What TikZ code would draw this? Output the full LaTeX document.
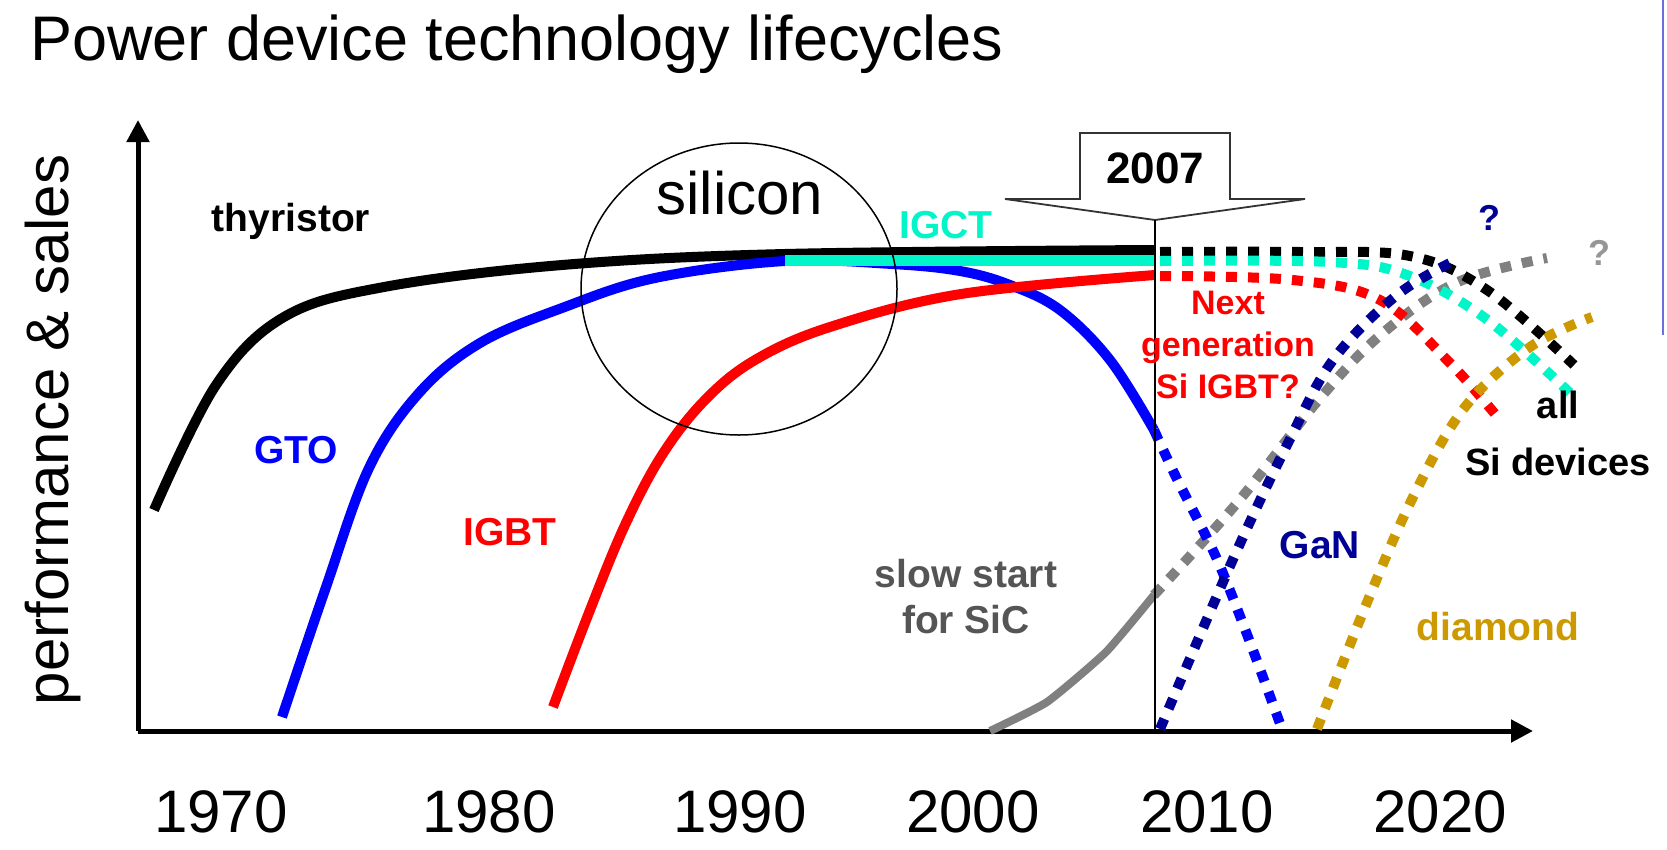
\documentclass[tikz,border=0pt]{standalone}
\usepackage{fontspec}
\setmainfont{Liberation Sans}
\usetikzlibrary{arrows.meta}
\definecolor{igct}{RGB}{0,245,200}
\definecolor{gan}{RGB}{0,0,150}
\definecolor{dia}{RGB}{204,153,0}
\definecolor{sic}{RGB}{128,128,128}
\definecolor{sictext}{RGB}{85,85,85}
\definecolor{qgray}{RGB}{150,150,150}
\definecolor{frameblue}{RGB}{110,110,220}
\begin{document}
\begin{tikzpicture}[x=1pt,y=-1pt,
  lbl/.style={font=\fontsize{39}{46}\selectfont\bfseries, inner sep=0pt, align=center},
  big/.style={font=\fontsize{60}{66}\selectfont, inner sep=0pt},
  curve/.style={line width=10pt, line join=round},
  dotc/.style={line width=10pt, dash pattern=on 11pt off 11pt},
  axis/.style={line width=5pt, -{Triangle[length=22pt,width=22pt]}},
]
\useasboundingbox (0,0) rectangle (1667,849);

% frame line at right edge
\draw[frameblue, line width=2.5pt] (1663,0) -- (1663,335);

% title
\node[anchor=base west, font=\fontsize{63}{70}\selectfont, inner sep=0pt] (title) at (30,60) {Power device technology lifecycles};

% axes
\coordinate (origin) at (138,731);
\coordinate (ytip) at (138,120);
\coordinate (xtip) at (1533,731);
\draw[axis] (origin) -- (ytip);
\draw[axis] (origin) -- (xtip);

% axis labels
\node[big, rotate=90] (ylab) at (53,430) {performance \& sales};
\node[big, anchor=base] (y1970) at (221,832) {1970};
\node[big, anchor=base] (y1980) at (489,832) {1980};
\node[big, anchor=base] (y1990) at (740,832) {1990};
\node[big, anchor=base] (y2000) at (973,832) {2000};
\node[big, anchor=base] (y2010) at (1207,832) {2010};
\node[big, anchor=base] (y2020) at (1440,832) {2020};

% thyristor (black)
\draw[curve, black] plot[smooth, tension=0.6] coordinates {(154,510) (216,385) (284,317) (384,287) (562,265) (785,254) (1155,250)};
% GTO (blue)
\draw[curve, blue] plot[smooth, tension=0.6] coordinates {(282,717) (325,590) (369,468) (419,393) (480,343) (562,308) (655,278) (785,261) (892,264) (960,271) (1010,285) (1060,310) (1110,360) (1154,430)};
% IGBT (red)
\draw[curve, red] plot[smooth, tension=0.6] coordinates {(553,707) (590,610) (625,525) (662,455) (705,400) (755,360) (830,327) (961,294) (1155,275)};
% IGCT (cyan)
\draw[line width=11pt, igct] (785,260) -- (1155,260);
% SiC solid (gray)
\draw[curve, sic, line width=8pt] plot[smooth, tension=0.3] coordinates {(990,731) (1047,702) (1106,652) (1154,595)};

% dotted continuations
\draw[dotc, sic] plot[smooth, tension=0.6] coordinates {(1154,595) (1237,503) (1321,397) (1384,332) (1458,282) (1547,258)};
\draw[dotc, blue] plot[smooth, tension=0.5] coordinates {(1154,430) (1176,477) (1216,557) (1248,637) (1282,729)};
\draw[dotc, red] plot[smooth, tension=0.6] coordinates {(1160,276) (1293,280) (1380,300) (1449,362) (1495,414)};
\draw[dotc, dia] plot[smooth, tension=0.6] coordinates {(1317,729) (1368,600) (1415,493) (1465,407) (1530,347) (1592,317)};
\draw[dotc, black] plot[smooth, tension=0.6] coordinates {(1160,252) (1300,252) (1410,256) (1487,290) (1574,365)};
\draw[dotc, igct] plot[smooth, tension=0.6] coordinates {(1160,261) (1330,262) (1407,275) (1485,318) (1570,393)};
\draw[dotc, gan] plot[smooth, tension=0.6] coordinates {(1160,729) (1234,557) (1288,443) (1333,360) (1397,295) (1456,260)};

% silicon circle
\draw[line width=1.5pt] (739,289) ellipse [x radius=158, y radius=146];
\node[font=\fontsize{60}{66}\selectfont, inner sep=0pt] (silicon) at (740,193) {silicon};

% 2007 callout
\draw[line width=1.8pt, fill=white, draw=black!80] (1080,199) -- (1080,133) -- (1230,133) -- (1230,199) -- (1305,199) -- (1155,220) -- (1005,199) -- cycle;
\coordinate (calltip) at (1155,220);
\coordinate (callfoot) at (1155,731);
\draw[line width=2pt] (calltip) -- (callfoot);
\node[font=\fontsize{44}{50}\selectfont\bfseries, inner sep=0pt] (y2007) at (1155,168) {2007};

% labels
\node[lbl] (thy) at (291,221) {thyristor};
\node[lbl, blue] (gto) at (296,450) {GTO};
\node[lbl, red] (igbt) at (510,532) {IGBT};
\node[lbl, igct] (igctl) at (946,225) {IGCT};
\node[lbl, red, font=\fontsize{34}{42}\selectfont\bfseries] (next) at (1228,345) {Next\\generation\\Si IGBT?};
\node[lbl, font=\fontsize{38}{57}\selectfont\bfseries] (allsi) at (1558,433) {all\\Si devices};
\node[lbl, gan] (ganl) at (1320,545) {GaN};
\node[lbl, dia] (diam) at (1498,627) {diamond};
\node[lbl, sictext] (slow) at (966,597) {slow start\\for SiC};
\node[lbl, gan, font=\fontsize{36}{40}\selectfont\bfseries] (q1) at (1489,218) {?};
\node[lbl, qgray, font=\fontsize{36}{40}\selectfont\bfseries] (q2) at (1599,253) {?};
\end{tikzpicture}
\end{document}
